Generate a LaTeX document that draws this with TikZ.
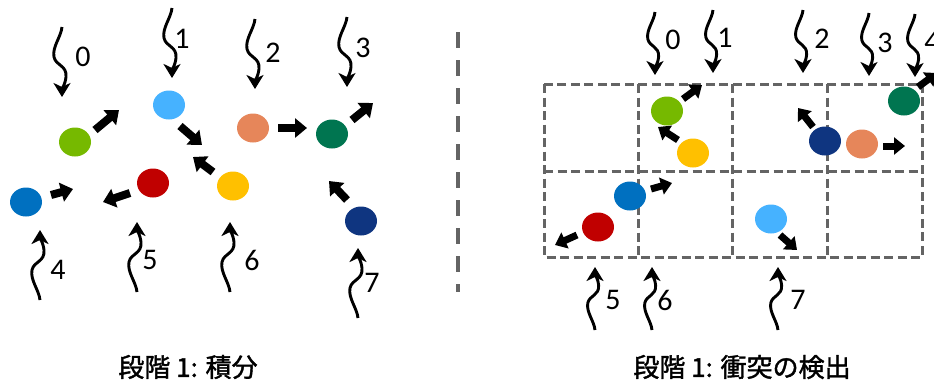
\documentclass[tikz,border=0pt]{standalone}
\usepackage{fontspec}
\setmainfont{Carlito}
\newfontfamily\cjk[FakeBold=1.5]{Noto Sans CJK JP}
\usetikzlibrary{arrows.meta,shapes.geometric}
\definecolor{cgreen}{RGB}{118,185,0}
\definecolor{clblue}{RGB}{70,178,255}
\definecolor{corange}{RGB}{230,134,90}
\definecolor{cdgreen}{RGB}{0,117,80}
\definecolor{cblue}{RGB}{0,112,192}
\definecolor{cred}{RGB}{192,0,0}
\definecolor{cyellow}{RGB}{255,192,0}
\definecolor{cnavy}{RGB}{15,53,128}
\definecolor{cgrid}{RGB}{100,100,100}
\tikzset{
 dot/.style={ellipse, minimum width=32pt, minimum height=29pt, inner sep=0pt},
 fat/.style={line width=8pt, -{Triangle[length=12pt,width=19pt]}},
 fatsmall/.style={line width=7pt, -{Triangle[length=11pt,width=17pt]}},
 photonpath/.style={line width=2.9pt, -{Stealth[length=14pt,width=17pt,inset=4pt]}},
 num/.style={font=\fontsize{30}{30}\selectfont, inner sep=0pt},
 captext/.style={font=\cjk\fontsize{26}{26}\selectfont, inner sep=0pt},
 gridline/.style={cgrid, line width=3pt, dash pattern=on 9pt off 4.5pt},
 sepline/.style={cgrid, line width=3.5pt, dash pattern=on 16pt off 12pt},
 pics/photon/.style={code={\draw[photonpath] (0,-70) .. controls (-1,-60) and (-10,-50) .. (-8,-40) .. controls (-6,-31) and (5,-32) .. (4,-20) .. controls (3,-12) and (0,-8) .. (0,0);}}
}
\begin{document}
\begin{tikzpicture}[x=1pt,y=-1pt]
\clip (0,0) rectangle (934,384);
% ---------- left panel ----------
\node[dot,fill=cgreen]  (g0) at (75,142) {};
\node[dot,fill=clblue]  (b1) at (169,105) {};
\node[dot,fill=corange] (o2) at (253,128) {};
\node[dot,fill=cdgreen] (d3) at (332,134) {};
\node[dot,fill=cblue]   (u4) at (26,202) {};
\node[dot,fill=cred]    (r5) at (153,183) {};
\node[dot,fill=cyellow] (y6) at (233,186) {};
\node[dot,fill=cnavy]   (n7) at (361,221) {};
\draw[fat] ([shift={(20,-12)}]g0.center) -- ++(24,-20);
\draw[fat] ([shift={(25,-7)}]u4.center) -- ++(22,-6);
\draw[fat] ([shift={(-23,10)}]r5.center) -- ++(-27,9);
\draw[fat] ([shift={(11,21)}]b1.center) -- ++(22,19);
\draw[fat] ([shift={(-20,-14)}]y6.center) -- ++(-20,-15);
\draw[fat] ([shift={(25,0)}]o2.center) -- ++(29,0);
\draw[fat] ([shift={(20,-14)}]d3.center) -- ++(21,-17);
\draw[fat] ([shift={(-14,-21)}]n7.center) -- ++(-18,-19);
\pic at (62,97) {photon};
\pic at (172,78) {photon};
\pic at (255,89) {photon};
\pic at (347,87) {photon};
\pic[yscale=-1] at (40,230) {photon};
\pic[yscale=-1] at (137,222) {photon};
\pic[yscale=-1] at (230,222) {photon};
\pic[yscale=-1] at (358,248) {photon};
\node[num] (l0) at (83,57) {0};
\node[num] (l1) at (182,39) {1};
\node[num] (l2) at (273,53) {2};
\node[num] (l3) at (363,48) {3};
\node[num] (l4) at (58,270) {4};
\node[num] (l5) at (150,260) {5};
\node[num] (l6) at (252,260) {6};
\node[num] (l7) at (372,283) {7};
% separator
\draw[sepline] (458,32) -- (458,292);
% ---------- right panel ----------
\draw[gridline] (544,84) rectangle (922,257);
\draw[gridline] (544,171) -- (922,171);
\draw[gridline] (638,84) -- (638,257);
\draw[gridline] (732,84) -- (732,257);
\draw[gridline] (827,84) -- (827,257);
\node[dot,fill=cgreen]  (rg) at (667,111) {};
\node[dot,fill=cyellow] (ry) at (693,153) {};
\node[dot,fill=cnavy]   (rn) at (825,141) {};
\node[dot,fill=corange] (ro) at (862,144) {};
\node[dot,fill=cdgreen] (rd) at (904,101) {};
\node[dot,fill=cblue]   (ru) at (630,196) {};
\node[dot,fill=cred]    (rr) at (598,227) {};
\node[dot,fill=clblue]  (rb) at (771,219) {};
\draw[fatsmall] ([shift={(16,-12)}]rg.center) -- ++(19,-14);
\draw[fatsmall] ([shift={(-15,-13)}]ry.center) -- ++(-20,-13);
\draw[fatsmall] ([shift={(-12,-14)}]rn.center) -- ++(-15,-19);
\draw[fatsmall] ([shift={(21,2)}]ro.center) -- ++(22,0);
\draw[fatsmall] ([shift={(14,-14)}]rd.center) -- ++(19,-14);
\draw[fatsmall] ([shift={(21,-7)}]ru.center) -- ++(21,-6);
\draw[fatsmall] ([shift={(-21,8)}]rr.center) -- ++(-22,10);
\draw[fatsmall] ([shift={(9,16)}]rb.center) -- ++(17,15);
\pic[scale=0.9] at (655,75) {photon};
\pic[scale=0.9] at (713,73) {photon};
\pic[scale=0.9] at (803,73) {photon};
\pic[scale=0.9] at (869,76) {photon};
\pic[scale=0.9] at (915,77) {photon};
\pic[xscale=0.9,yscale=-0.9] at (595,267) {photon};
\pic[xscale=0.9,yscale=-0.9] at (652,267) {photon};
\pic[xscale=0.9,yscale=-0.9] at (778,267) {photon};
\node[num] (m0) at (673,40) {0};
\node[num] (m1) at (725,38) {1};
\node[num] (m2) at (822,39) {2};
\node[num] (m3) at (885,43) {3};
\node[num] (m4) at (932,42) {4};
\node[num] (m5) at (613,300) {5};
\node[num] (m6) at (665,300) {6};
\node[num] (m7) at (798,300) {7};
% captions
\node[captext] (c1) at (188,367) {段階 1: 積分};
\node[captext] (c2) at (742,367) {段階 1: 衝突の検出};
\end{tikzpicture}
\end{document}
